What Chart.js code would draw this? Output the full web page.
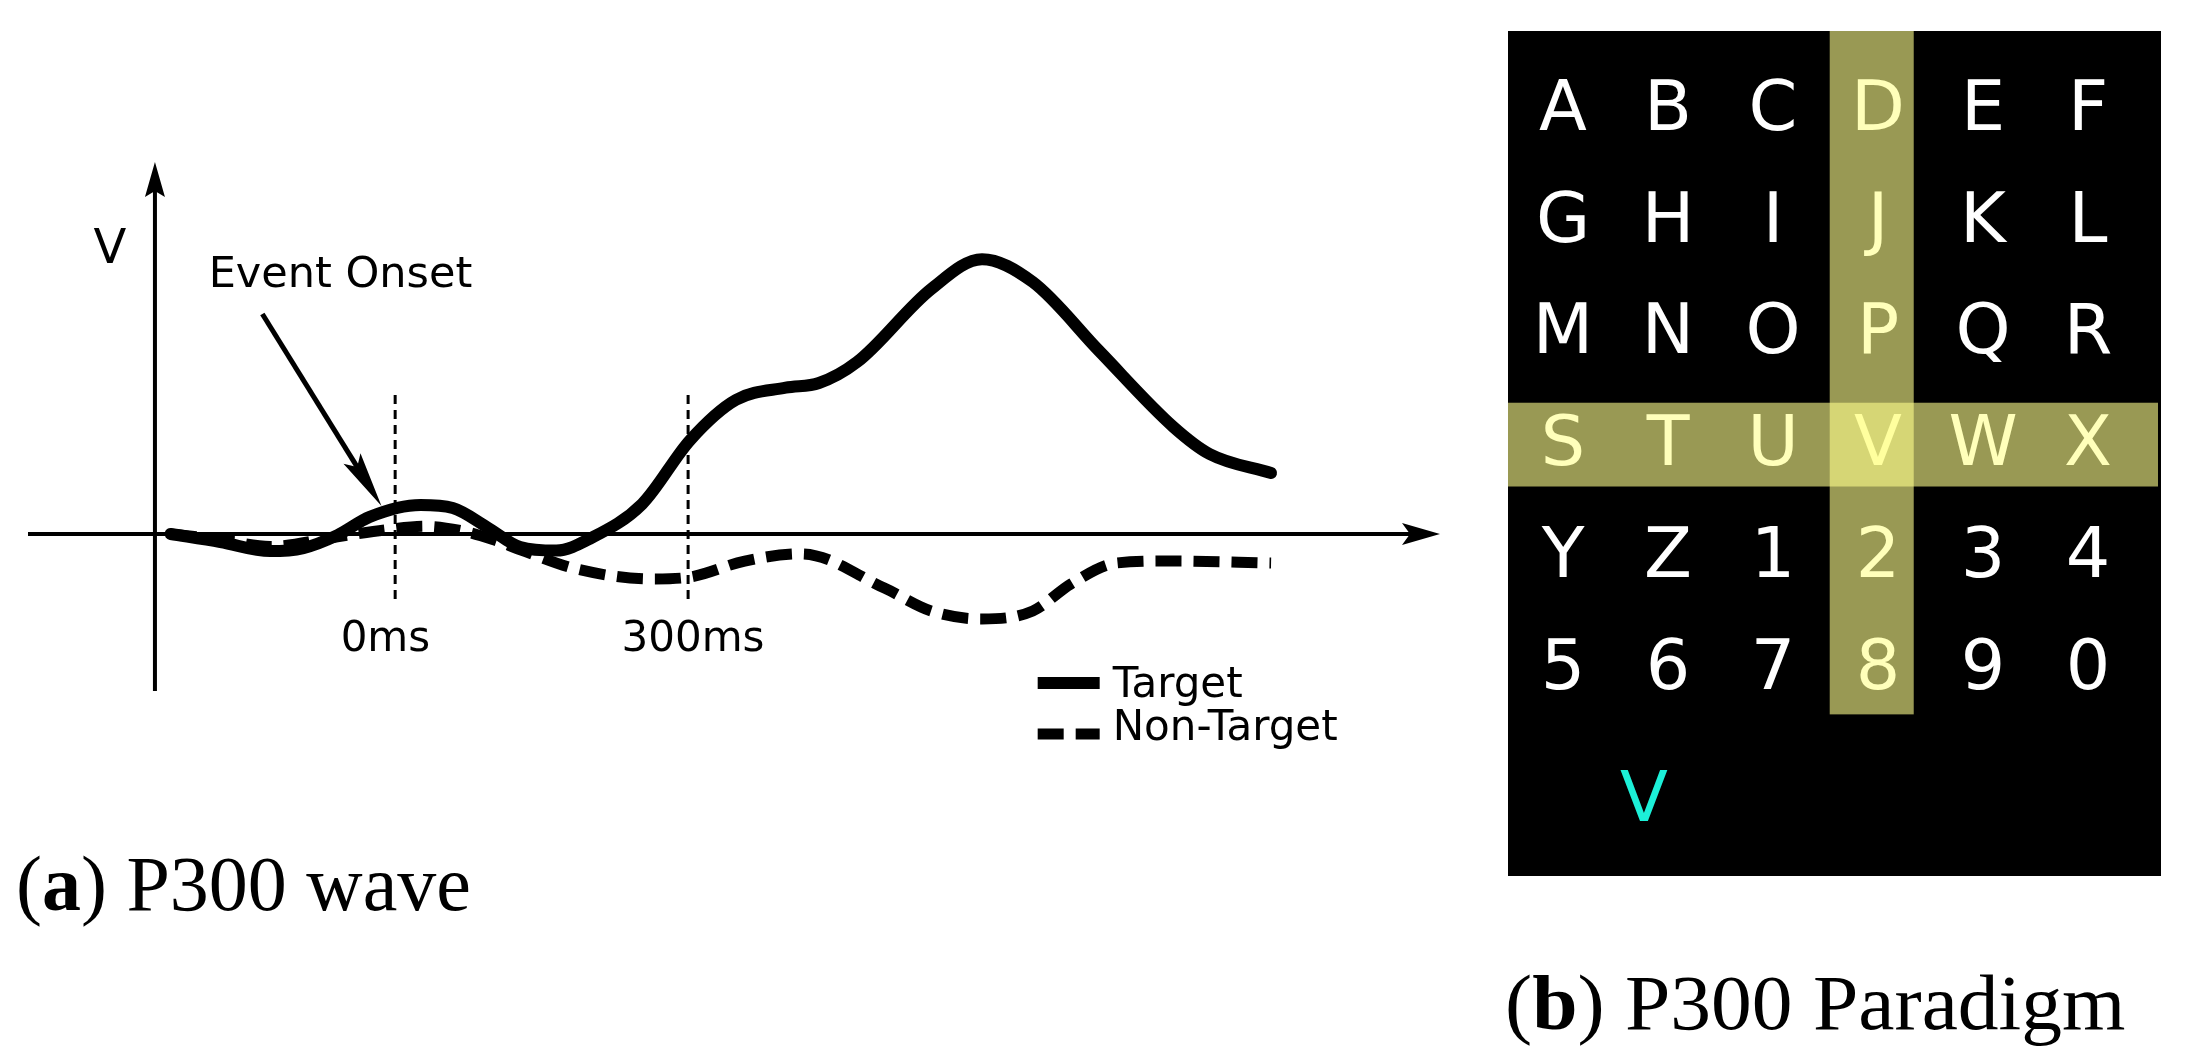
<!DOCTYPE html>
<html>
<head>
<meta charset="utf-8">
<script src="https://cdn.jsdelivr.net/npm/chart.js@4.4.1/dist/chart.umd.min.js"></script>
<style>
  html, body { margin: 0; padding: 0; background: #fff; }
  body { width: 2201px; height: 1048px; position: relative; overflow: hidden; }
  #waveChart { position: absolute; left: 0; top: 0; }
  #gridChart { position: absolute; left: 1508px; top: 31px; background: #000; }
  .caption { position: absolute; font-family: 'Liberation Serif', serif; font-size: 78px; line-height: 78px; color: #000; white-space: nowrap; transform-origin: 0 0; }
  #capA { left: 16px; top: 845px; }
  #capB { left: 1505px; top: 964px; transform: scaleX(1.045); }
</style>
</head>
<body>
<canvas id="waveChart" width="1460" height="780"></canvas>
<canvas id="gridChart" width="653" height="845"></canvas>
<div class="caption" id="capA">(<b>a</b>) P300 wave</div>
<div class="caption" id="capB">(<b>b</b>) P300 Paradigm</div>
<script>
(function(){
  // ---- (a) P300 wave: time in ms, amplitude in arbitrary units ----
  const targetMs = [-230, -179, -128, -94, -59, -26, 26, 59, 94, 128, 165, 201, 253, 302, 349, 400, 434, 473, 549, 601, 653, 721, 797, 834, 897];
  const targetV  = [0, -0.29, -0.62, -0.51, -0.04, 0.62, 1.05, 0.94, 0.25, -0.47, -0.6, -0.14, 1.09, 3.4, 4.86, 5.3, 5.47, 6.23, 8.88, 9.96, 9.13, 6.63, 3.88, 2.9, 2.21];
  const nonTargetMs = [-230, -179, -128, -59, -10, 30, 70, 100, 129, 186, 263, 302, 358, 416, 501, 549, 601, 653, 692, 739, 797, 897];
  const nonTargetV  = [0, -0.2, -0.45, -0.1, 0.15, 0.28, 0.1, -0.2, -0.58, -1.27, -1.63, -1.56, -0.98, -0.72, -1.96, -2.79, -3.08, -2.79, -1.81, -1.05, -0.98, -1.05];
  const seriesLabels = ['Target', 'Non-Target'];

  // dotted event markers and their labels
  const markerMs = [0, 300];
  const markerLabels = ['0ms', '300ms'];
  const markerLabelMs = [-10, 305];

  const X_MIN = -376, X_MAX = 1070;
  const Y_MIN = -5.69, Y_MAX = 13.48;
  const Y_AXIS_MS = -246;

  // ---- (b) P300 speller matrix ----
  const symbols = ['A','B','C','D','E','F','G','H','I','J','K','L','M','N','O','P','Q','R',
                   'S','T','U','V','W','X','Y','Z','1','2','3','4','5','6','7','8','9','0'];
  const GRID_COLS = 6;
  const colBand = [2.54, 3.34];   // flashed column D J P V 2 8
  const rowBand = [2.67, 3.42];   // flashed row S T U V W X
  const colBandEnd = 5.46;
  const typedText = ['V'];

  function arrowHead(ctx, x, y, angle, len, half, notch){
    ctx.save();
    ctx.translate(x, y);
    ctx.rotate(angle);
    ctx.beginPath();
    ctx.moveTo(0, 0);
    ctx.lineTo(-len, -half);
    ctx.lineTo(-len + notch, 0);
    ctx.lineTo(-len, half);
    ctx.closePath();
    ctx.fill();
    ctx.restore();
  }

  const waveDecor = {
    id: 'waveDecor',
    beforeDatasetsDraw(chart){
      const { ctx, chartArea: a, scales: { x, y } } = chart;
      const y0 = y.getPixelForValue(0);
      const ax = x.getPixelForValue(Y_AXIS_MS);
      ctx.save();
      ctx.strokeStyle = '#000';
      ctx.fillStyle = '#000';
      ctx.lineWidth = 4;
      // horizontal axis
      ctx.beginPath(); ctx.moveTo(a.left, y0); ctx.lineTo(a.right - 30, y0); ctx.stroke();
      arrowHead(ctx, a.right, y0, 0, 38, 11, 8);
      // vertical axis
      ctx.beginPath(); ctx.moveTo(ax, a.bottom); ctx.lineTo(ax, a.top + 28); ctx.stroke();
      arrowHead(ctx, ax, a.top, -Math.PI / 2, 35, 10, 6);

      // dotted event lines
      ctx.lineWidth = 3;
      ctx.setLineDash([9, 6]);
      markerMs.forEach(m => {
        const px = x.getPixelForValue(m);
        ctx.beginPath();
        ctx.moveTo(px, y.getPixelForValue(5.04));
        ctx.lineTo(px, y.getPixelForValue(-2.54));
        ctx.stroke();
      });
      ctx.setLineDash([]);

      ctx.font = '42px "DejaVu Sans"';
      ctx.textAlign = 'center';
      ctx.textBaseline = 'alphabetic';
      markerLabels.forEach((t, i) => {
        ctx.fillText(t, x.getPixelForValue(markerLabelMs[i]), y.getPixelForValue(-4.25));
      });

      // axis name
      ctx.font = '48px "DejaVu Sans"';
      ctx.fillText('V', x.getPixelForValue(-292), y.getPixelForValue(9.82));

      // event onset annotation
      ctx.font = '43px "DejaVu Sans"';
      ctx.textAlign = 'left';
      ctx.fillText('Event Onset', x.getPixelForValue(-191), y.getPixelForValue(8.95));
      const sx = x.getPixelForValue(-136), sy = y.getPixelForValue(7.97);
      const tx = x.getPixelForValue(-14), ty = y.getPixelForValue(1.01);
      const ang = Math.atan2(ty - sy, tx - sx);
      ctx.lineWidth = 5;
      ctx.beginPath();
      ctx.moveTo(sx, sy);
      ctx.lineTo(tx - Math.cos(ang) * 45, ty - Math.sin(ang) * 45);
      ctx.stroke();
      arrowHead(ctx, tx, ty, ang, 56, 10, 10);

      // legend
      ctx.font = '42px "DejaVu Sans"';
      const lx0 = x.getPixelForValue(658);
      const rowsY = [-5.4, -7.25];
      const textY = [-5.906, -7.464];
      chart.data.datasets.forEach((ds, i) => {
        const py = y.getPixelForValue(rowsY[i]);
        ctx.lineWidth = ds.borderWidth;
        ctx.setLineDash(ds.borderDash || []);
        ctx.lineCap = 'butt';
        ctx.beginPath(); ctx.moveTo(lx0, py); ctx.lineTo(lx0 + 62, py); ctx.stroke();
        ctx.setLineDash([]);
        ctx.fillText(ds.label, lx0 + 75, y.getPixelForValue(textY[i]));
      });
      ctx.restore();
    }
  };

  new Chart(document.getElementById('waveChart'), {
    type: 'line',
    data: {
      datasets: [
        {
          label: seriesLabels[0],
          data: targetMs.map((t, i) => ({ x: t, y: targetV[i] })),
          borderColor: '#000', borderWidth: 12,
          borderCapStyle: 'round', borderJoinStyle: 'round',
          pointRadius: 0, cubicInterpolationMode: 'monotone', fill: false
        },
        {
          label: seriesLabels[1],
          data: nonTargetMs.map((t, i) => ({ x: t, y: nonTargetV[i] })),
          borderColor: '#000', borderWidth: 11, borderDash: [26, 12],
          borderCapStyle: 'butt',
          pointRadius: 0, cubicInterpolationMode: 'monotone', fill: false
        }
      ]
    },
    options: {
      responsive: false,
      animation: false,
      events: [],
      layout: { padding: { left: 28, right: 20, top: 162, bottom: 89 } },
      scales: {
        x: { type: 'linear', min: X_MIN, max: X_MAX, display: false },
        y: { type: 'linear', min: Y_MIN, max: Y_MAX, display: false }
      },
      plugins: { legend: { display: false }, tooltip: { enabled: false } }
    },
    plugins: [waveDecor]
  });

  // ---- speller matrix chart ----
  const gridDecor = {
    id: 'gridDecor',
    afterDatasetsDraw(chart){
      const { ctx, scales: { x, y } } = chart;
      const size = 70;
      const capHalf = 0.729 * size / 2;
      ctx.save();
      ctx.font = size + 'px "DejaVu Sans"';
      ctx.textAlign = 'center';
      ctx.textBaseline = 'alphabetic';
      chart.data.datasets.forEach((ds, di) => {
        const meta = chart.getDatasetMeta(di);
        ctx.fillStyle = ds.textColor;
        meta.data.forEach((pt, i) => {
          ctx.fillText(ds.labels[i], pt.x, pt.y + capHalf);
        });
      });
      // flashed row and column
      ctx.fillStyle = 'rgba(255,255,140,0.6)';
      const cx1 = x.getPixelForValue(colBand[0]), cx2 = x.getPixelForValue(colBand[1]);
      ctx.fillRect(cx1, y.getPixelForValue(y.min), cx2 - cx1, y.getPixelForValue(colBandEnd) - y.getPixelForValue(y.min));
      const ry1 = y.getPixelForValue(rowBand[0]), ry2 = y.getPixelForValue(rowBand[1]);
      ctx.fillRect(x.getPixelForValue(x.min), ry1, x.getPixelForValue(x.max) - x.getPixelForValue(x.min) - 3, ry2 - ry1);
      ctx.restore();
    }
  };

  new Chart(document.getElementById('gridChart'), {
    type: 'scatter',
    data: {
      datasets: [
        {
          labels: symbols, textColor: '#fff',
          data: symbols.map((s, i) => ({ x: i % GRID_COLS, y: Math.floor(i / GRID_COLS) })),
          pointRadius: 0
        },
        {
          labels: typedText, textColor: '#1cf0d8',
          data: [{ x: 0.77, y: 6.19 }],
          pointRadius: 0
        }
      ]
    },
    options: {
      responsive: false,
      animation: false,
      events: [],
      layout: { padding: 0 },
      scales: {
        x: { type: 'linear', min: -0.524, max: 5.695, display: false },
        y: { type: 'linear', min: -0.658, max: 6.907, reverse: true, display: false }
      },
      plugins: { legend: { display: false }, tooltip: { enabled: false } }
    },
    plugins: [gridDecor]
  });
})();
</script>
</body>
</html>
